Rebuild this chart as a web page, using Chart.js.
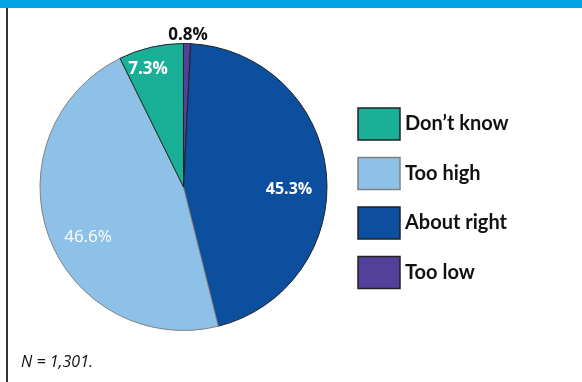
<!DOCTYPE html>
<html>
<head>
<meta charset="utf-8">
<script src="https://cdn.jsdelivr.net/npm/chart.js@4.4.0/dist/chart.umd.min.js"></script>
<style>
  html, body { margin: 0; padding: 0; background: #fff; }
  #wrap { position: relative; width: 582px; height: 382px; overflow: hidden; }
  #topbar { position: absolute; left: 0; top: 0; width: 582px; height: 8px; background: #00a3e4; }
  #leftline { position: absolute; left: 6px; top: 8px; width: 2px; height: 374px; background: #333; }
  canvas { position: absolute; left: 0; top: 0; }
</style>
</head>
<body>
<div id="wrap">
  <div id="topbar"></div>
  <div id="leftline"></div>
  <canvas id="myChart" width="582" height="382"></canvas>
</div>
<script>
// slices, clockwise from 12 o'clock
const categories = ['Too low', 'About right', 'Too high', 'Don\u2019t know'];
const shares = [0.8, 45.3, 46.6, 7.3];
const sliceColors = ['#52409a', '#0b4f9e', '#8ec1e8', '#1aaf97'];
const sliceBorders = ['#222222', '#222222', '#808080', '#222222'];
// legend reads top to bottom in this order
const legendOrder = ['Don\u2019t know', 'Too high', 'About right', 'Too low'];
const sampleNote = 'N = 1,301.';

// where each percentage label sits and how it looks
const labelStyle = {
    'Too low': { x: 188, y: 35, color: '#111', font: 'bold 17px "Open Sans"' },
    'About right': { x: 289, y: 189, color: '#fff', font: 'bold 16px "Open Sans"' },
    'Too high': { x: 88, y: 237, color: '#fff', font: '17px "Open Sans"' },
    'Don\u2019t know': { x: 148, y: 69, color: '#fff', font: 'bold 17px "Open Sans"' }
};

const extras = {
    id: 'extras',
    afterDraw(chart) {
        const ctx = chart.ctx;
        ctx.save();
        ctx.textAlign = 'center';
        ctx.textBaseline = 'middle';
        categories.forEach(function (name, i) {
            const s = labelStyle[name];
            ctx.font = s.font;
            ctx.fillStyle = s.color;
            ctx.fillText(shares[i].toFixed(1) + '%', s.x, s.y);
        });

        // legend boxes
        ctx.textAlign = 'left';
        ctx.font = 'bold 20px Lato';
        legendOrder.forEach(function (name, k) {
            const i = categories.indexOf(name);
            const y = 108 + k * 49.5;
            ctx.fillStyle = sliceColors[i];
            ctx.fillRect(358, y, 42, 32);
            ctx.lineWidth = 1.5;
            ctx.strokeStyle = sliceBorders[i];
            ctx.strokeRect(358, y, 42, 32);
            ctx.fillStyle = '#111';
            ctx.fillText(name, 405, y + 16);
        });

        ctx.font = 'italic 16px "Open Sans"';
        ctx.fillStyle = '#111';
        ctx.fillText(sampleNote, 21, 362);
        ctx.restore();
    }
};

document.addEventListener('DOMContentLoaded', function () {
    const ctx = document.getElementById('myChart').getContext('2d');
    new Chart(ctx, {
        type: 'pie',
        data: {
            labels: categories,
            datasets: [{
                data: shares,
                backgroundColor: sliceColors,
                borderColor: sliceBorders,
                borderWidth: 1
            }]
        },
        options: {
            responsive: false,
            animation: false,
            layout: { padding: { left: 39, right: 254, top: 43, bottom: 51 } },
            plugins: {
                legend: { display: false },
                tooltip: { enabled: false }
            }
        },
        plugins: [extras]
    });
});
</script>
</body>
</html>
